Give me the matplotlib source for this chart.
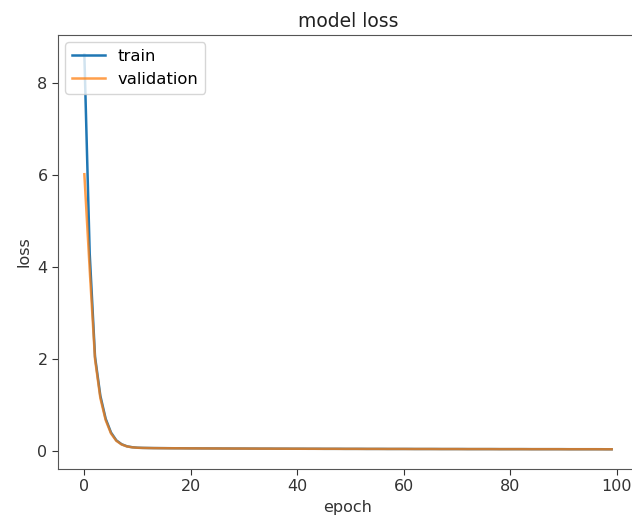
import matplotlib
matplotlib.use("Agg")
import matplotlib.pyplot as plt

# valores (100 epocas)
train_loss = [
    8.62, 4.30, 2.05, 1.20, 0.70, 0.40, 0.23, 0.145, 0.100, 0.080,
    0.070, 0.066, 0.064, 0.062, 0.061, 0.060, 0.059, 0.058, 0.058, 0.057,
    0.056, 0.056, 0.055, 0.055, 0.054, 0.054, 0.053, 0.053, 0.052, 0.052,
    0.052, 0.051, 0.051, 0.050, 0.050, 0.050, 0.049, 0.049, 0.049, 0.048,
    0.048, 0.048, 0.047, 0.047, 0.047, 0.046, 0.046, 0.046, 0.046, 0.045,
    0.045, 0.045, 0.045, 0.044, 0.044, 0.044, 0.044, 0.043, 0.043, 0.043,
    0.043, 0.043, 0.042, 0.042, 0.042, 0.042, 0.042, 0.041, 0.041, 0.041,
    0.041, 0.041, 0.040, 0.040, 0.040, 0.040, 0.040, 0.040, 0.039, 0.039,
    0.039, 0.039, 0.039, 0.039, 0.038, 0.038, 0.038, 0.038, 0.038, 0.038,
    0.038, 0.037, 0.037, 0.037, 0.037, 0.037, 0.037, 0.037, 0.036, 0.036,
]
val_loss = [
    6.02, 3.95, 2.00, 1.15, 0.67, 0.38, 0.22, 0.140, 0.098, 0.078,
    0.069, 0.065, 0.063, 0.061, 0.060, 0.059, 0.058, 0.058, 0.057, 0.056,
    0.056, 0.055, 0.055, 0.054, 0.054, 0.053, 0.053, 0.052, 0.052, 0.052,
    0.051, 0.051, 0.050, 0.050, 0.050, 0.049, 0.049, 0.049, 0.048, 0.048,
    0.048, 0.047, 0.047, 0.047, 0.046, 0.046, 0.046, 0.046, 0.045, 0.045,
    0.045, 0.045, 0.044, 0.044, 0.044, 0.044, 0.043, 0.043, 0.043, 0.043,
    0.043, 0.042, 0.042, 0.042, 0.042, 0.042, 0.041, 0.041, 0.041, 0.041,
    0.041, 0.040, 0.040, 0.040, 0.040, 0.040, 0.040, 0.039, 0.039, 0.039,
    0.039, 0.039, 0.039, 0.038, 0.038, 0.038, 0.038, 0.038, 0.038, 0.038,
    0.037, 0.037, 0.037, 0.037, 0.037, 0.037, 0.037, 0.036, 0.036, 0.036,
]
epochs = list(range(len(train_loss)))
labels = ["train", "validation"]

fig = plt.figure(figsize=(6.32, 5.24), dpi=100)
ax = fig.add_axes([58/632, 55/524, 580/632, 434/524])
ax.plot(epochs, train_loss, color="#1f77b4", lw=1.8, label=labels[0])
ax.plot(epochs, val_loss, color="#ff7f0e", lw=1.8, label=labels[1], alpha=0.75)
ax.set_xticks([0, 20, 40, 60, 80, 100])
ax.set_yticks([0, 2, 4, 6, 8])
ax.tick_params(labelsize=11.5, colors="#333333", length=4)
for s in ax.spines.values():
    s.set_color("#555555")
ax.spines["right"].set_visible(False)  # en la captura original queda recortado
ax.set_title("model loss", fontsize=13.5, color="#222222")
ax.set_xlabel("epoch", fontsize=11.5, color="#333333")
ax.set_ylabel("loss", fontsize=11.5, color="#333333")
ax.legend(loc="upper left", fontsize=11.8, borderaxespad=0.45)
fig.savefig("out.png", dpi=100)
